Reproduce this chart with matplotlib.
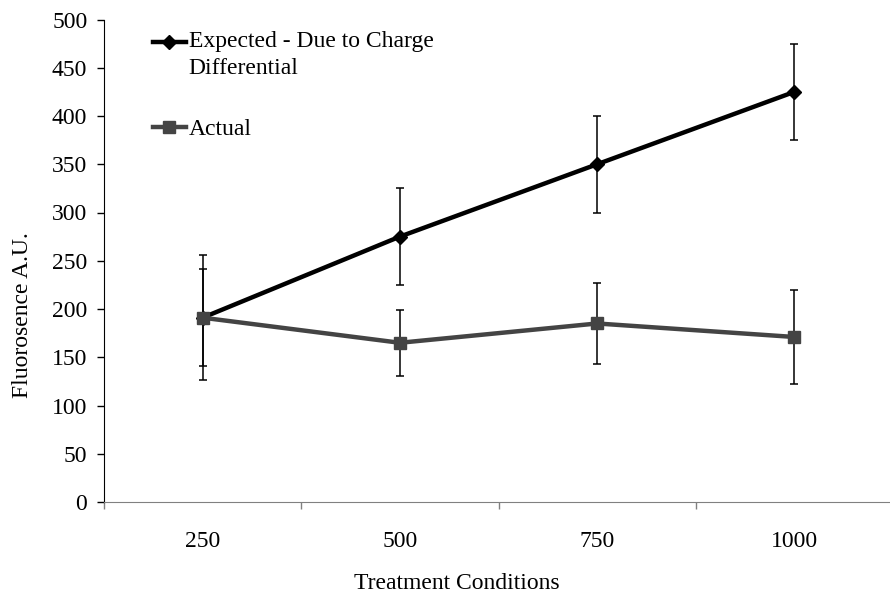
import numpy as np
import matplotlib
matplotlib.use('Agg')
import matplotlib.pyplot as plt
from matplotlib.legend_handler import HandlerLine2D

plt.rcParams['font.family'] = ['Liberation Serif', 'DejaVu Serif']

conditions = ['250', '500', '750', '1000']
expected = [191, 275, 350, 425]
expected_err = [50, 50, 50, 50]
actual = [191, 165, 185, 171]
actual_err = [65, 34, 42, 49]


class FirstLineHandler(HandlerLine2D):
    # keep the legend sample level with the first line of a 2-line label
    def __init__(self, shift=0, **kw):
        super().__init__(**kw)
        self.shift = shift

    def create_artists(self, legend, orig_handle, xdescent, ydescent,
                       width, height, fontsize, trans):
        return super().create_artists(legend, orig_handle, xdescent,
                                      ydescent - 2 * self.shift, width,
                                      height, fontsize, trans)


fs = 17
fig = plt.figure(figsize=(8.9, 5.94), dpi=100)
ax = fig.add_axes([104 / 890, 92 / 594, 789 / 890, 482.5 / 594])

x = np.arange(len(conditions))

ax.errorbar(x, expected, yerr=expected_err, color='black', lw=3.2,
            marker='D', markersize=7, ecolor='black', elinewidth=1.1,
            capsize=3, capthick=1.1, label='Expected - Due to Charge\nDifferential',
            zorder=3)
ax.errorbar(x, actual, yerr=actual_err, color='#444444', lw=3.2,
            marker='s', markersize=9, ecolor='black', elinewidth=1.1,
            capsize=3, capthick=1.1, label='Actual', zorder=4)

ax.set_xlim(-0.5, 3.5)
ax.set_ylim(0, 500)
ax.set_yticks(np.arange(0, 501, 50))
ax.set_xticks(x)
ax.set_xticklabels(conditions)
ax.set_xticks(np.arange(-0.5, 3.6, 1), minor=True)
ax.tick_params(axis='x', which='major', length=0, pad=21, labelsize=fs)
ax.tick_params(axis='x', which='minor', length=5, width=1, color='#808080', direction='out')
ax.tick_params(axis='y', length=5, width=1, pad=7, labelsize=fs, direction='out')

ax.spines['top'].set_visible(False)
ax.spines['right'].set_visible(False)
ax.spines['bottom'].set_color('#808080')
ax.spines['left'].set_color('black')

ax.set_xlabel('Treatment Conditions', fontsize=fs)
ax.set_ylabel('Fluorosence A.U.', fontsize=fs)
ax.xaxis.set_label_coords(0.447, -0.147)
ax.yaxis.set_label_coords(-0.090, 0.388)

handles, labels = ax.get_legend_handles_labels()
handles = [h[0] for h in handles]
leg = ax.legend(handles, labels, loc='upper left', bbox_to_anchor=(0.05, 0.995),
                frameon=False, fontsize=fs, handlelength=1.4, handletextpad=0.12,
                labelspacing=1.68, borderaxespad=0,
                handler_map={handles[0]: FirstLineHandler(shift=9.4)})
leg.get_texts()[0].set_linespacing(1.33)

fig.savefig('out.png', dpi=100)
